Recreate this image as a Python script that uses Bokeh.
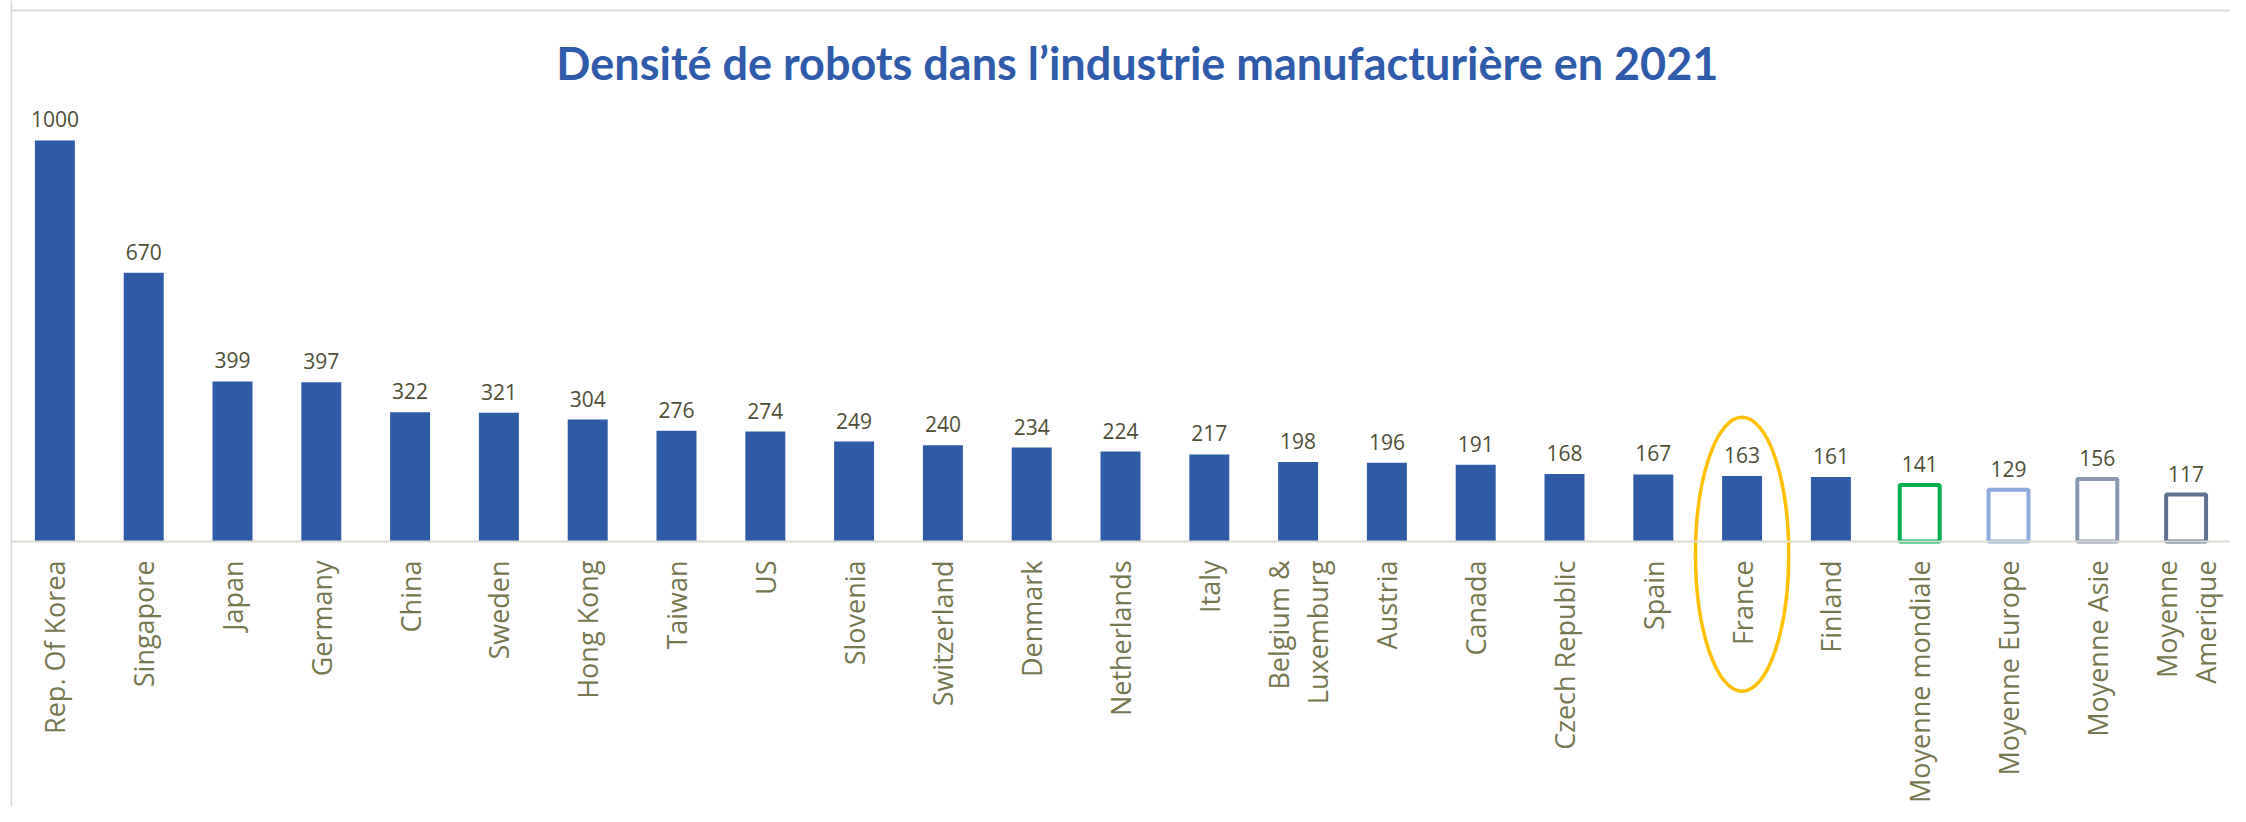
import math
from bokeh.plotting import figure
from bokeh.models import Range1d, FactorRange, Span, Label
from bokeh.embed import file_html
from bokeh.resources import INLINE
from bokeh.core.properties import value

categories = ["Rep. Of Korea", "Singapore", "Japan", "Germany", "China", "Sweden",
              "Hong Kong", "Taiwan", "US", "Slovenia", "Switzerland", "Denmark",
              "Netherlands", "Italy", "Belgium &\nLuxemburg", "Austria", "Canada",
              "Czech Republic", "Spain", "France", "Finland", "Moyenne mondiale",
              "Moyenne Europe", "Moyenne Asie", "Moyenne\nAmerique"]
densities = [1000, 670, 399, 397, 322, 321, 304, 276, 274, 249, 240, 234, 224, 217,
             198, 196, 191, 168, 167, 163, 161, 141, 129, 156, 117]
averages = ["Moyenne mondiale", "Moyenne Europe", "Moyenne Asie", "Moyenne\nAmerique"]
highlight = "France"
title_text = "Densité de robots dans l’industrie manufacturière en 2021"

BAR = "#2F5AA6"
avg_colors = {"Moyenne mondiale": "#00B050", "Moyenne Europe": "#8EA9DB",
              "Moyenne Asie": "#8896AE", "Moyenne\nAmerique": "#5F7090"}

country_x = [c for c in categories if c not in averages]
country_y = [v for c, v in zip(categories, densities) if c not in averages]
avg_x = [c for c in categories if c in averages]
avg_y = [v for c, v in zip(categories, densities) if c in averages]
avg_line = [avg_colors[c] for c in avg_x]

p = figure(width=2230, height=806, x_range=FactorRange(*categories, range_padding=0),
           y_range=Range1d(-661, 1349), output_backend="svg", toolbar_location=None,
           min_border=0, min_border_left=10)
p.xaxis.visible = False
p.yaxis.visible = False
p.xgrid.grid_line_color = None
p.ygrid.grid_line_color = None
p.outline_line_color = None

# chart border (left and top)
p.add_layout(Span(location=1324, dimension="width", line_color="#D9D9D9", line_width=2))
p.add_layout(Span(location=0.008, dimension="height", line_color="#D9D9D9", line_width=2))

p.vbar(x=country_x, top=country_y, bottom=0, width=0.45, fill_color=BAR, line_color=None)
p.vbar(x=avg_x, top=avg_y, bottom=0, width=0.45, fill_color="white",
       line_color=avg_line, line_width=4)

# baseline
p.add_layout(Span(location=0, dimension="width", line_color="#DCDCD2", line_width=2))

# value labels
p.text(x=categories, y=densities, text=[str(v) for v in densities],
       text_font=value("Open Sans"), text_font_size="21px",
       text_color="#4E4F37", text_align="center", text_baseline="bottom", y_offset=-13)

# category labels
p.text(x=categories, y=[0] * len(categories), text=categories,
       text_font=value("Open Sans"), text_font_size="27px", text_color="#75774F",
       text_align="right", text_baseline="middle", angle=math.pi / 2, y_offset=19,
       text_line_height=1.05)

# highlight ellipse around France
p.ellipse(x=[highlight], y=[-32], width=1.05, height=683, fill_color=None,
          line_color="#FFC000", line_width=3.5)

p.add_layout(Label(x=12.69, y=1192, text=title_text, text_font="Lato",
                   text_font_style="bold", text_font_size="45px", text_color="#2F5BAA",
                   text_align="center", text_baseline="middle"))

open("out.html", "w").write(file_html(p, INLINE))
